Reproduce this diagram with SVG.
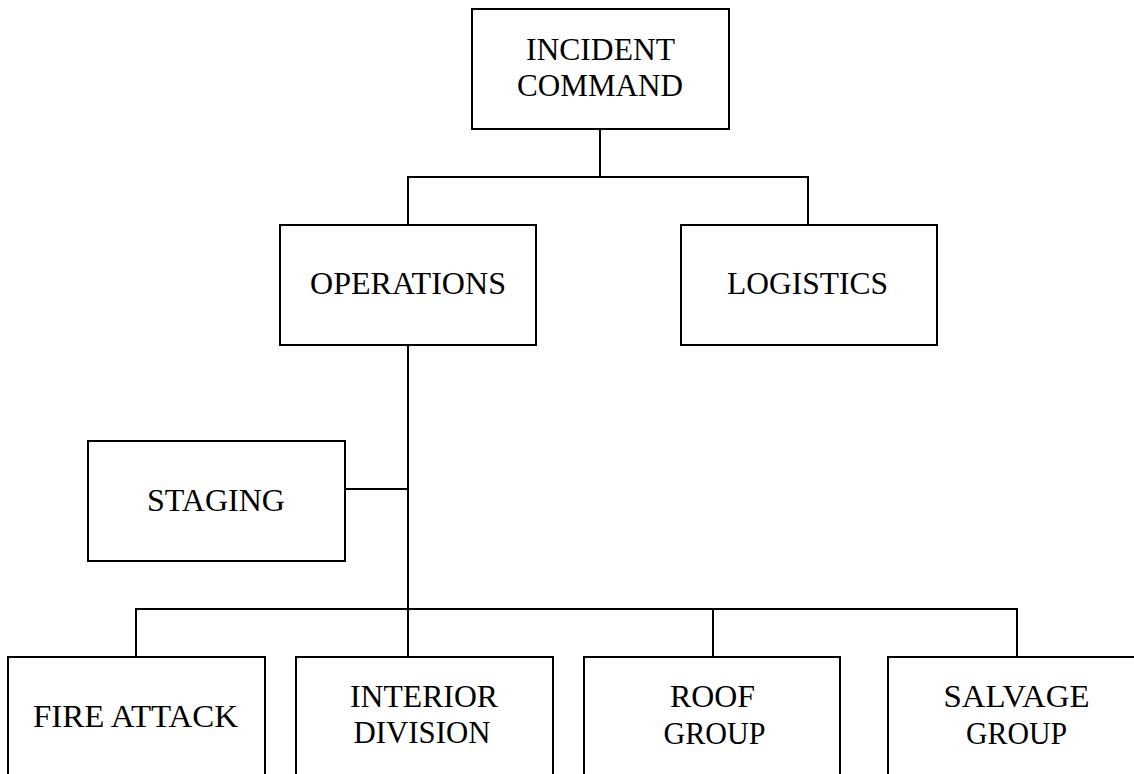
<svg xmlns="http://www.w3.org/2000/svg" width="1134" height="774" viewBox="0 0 1134 774">
<style>
.box{fill:#fff;stroke:#000;stroke-width:2}
.lbl{font-family:"Liberation Serif","Times New Roman",serif;font-size:32.5px;fill:#000;text-anchor:middle}
.conn line{stroke:#000;stroke-width:2;fill:none}
</style>
<rect width="1134" height="774" fill="#fff"/>
<g id="connectors" class="conn">
<line x1="600" y1="129" x2="600" y2="177"/>
<line x1="407" y1="177" x2="809" y2="177"/>
<line x1="408" y1="177" x2="408" y2="225"/>
<line x1="808" y1="177" x2="808" y2="225"/>
<line x1="408" y1="345" x2="408" y2="657"/>
<line x1="345" y1="489" x2="408" y2="489"/>
<line x1="135" y1="609" x2="1018" y2="609"/>
<line x1="136" y1="609" x2="136" y2="657"/>
<line x1="713" y1="609" x2="713" y2="657"/>
<line x1="1017" y1="609" x2="1017" y2="657"/>
</g>
<g id="incident-command">
<rect class="box" x="472" y="9" width="257" height="120"/>
<text class="lbl" x="600.5" y="59.5" textLength="149" lengthAdjust="spacingAndGlyphs">INCIDENT</text>
<text class="lbl" x="600" y="95.5" textLength="166" lengthAdjust="spacingAndGlyphs">COMMAND</text>
</g>
<g id="operations">
<rect class="box" x="280" y="225" width="256" height="120"/>
<text class="lbl" x="408" y="294" textLength="196" lengthAdjust="spacingAndGlyphs">OPERATIONS</text>
</g>
<g id="logistics">
<rect class="box" x="681" y="225" width="256" height="120"/>
<text class="lbl" x="807.5" y="294" textLength="161" lengthAdjust="spacingAndGlyphs">LOGISTICS</text>
</g>
<g id="staging">
<rect class="box" x="88" y="441" width="257" height="120"/>
<text class="lbl" x="216" y="510.5" textLength="138" lengthAdjust="spacingAndGlyphs">STAGING</text>
</g>
<g id="fire-attack">
<rect class="box" x="8" y="657" width="257" height="122"/>
<text class="lbl" x="135.5" y="727" textLength="205" lengthAdjust="spacingAndGlyphs">FIRE ATTACK</text>
</g>
<g id="interior-division">
<rect class="box" x="296" y="657" width="257" height="122"/>
<text class="lbl" x="424" y="707" textLength="148" lengthAdjust="spacingAndGlyphs">INTERIOR</text>
<text class="lbl" x="422" y="742.5" textLength="137" lengthAdjust="spacingAndGlyphs">DIVISION</text>
</g>
<g id="roof-group">
<rect class="box" x="584" y="657" width="256" height="122"/>
<text class="lbl" x="712.5" y="707" textLength="85" lengthAdjust="spacingAndGlyphs">ROOF</text>
<text class="lbl" x="714.5" y="743.5" textLength="102" lengthAdjust="spacingAndGlyphs">GROUP</text>
</g>
<g id="salvage-group">
<rect class="box" x="888" y="657" width="256" height="122"/>
<text class="lbl" x="1016.5" y="707" textLength="146" lengthAdjust="spacingAndGlyphs">SALVAGE</text>
<text class="lbl" x="1016.5" y="743.5" textLength="101" lengthAdjust="spacingAndGlyphs">GROUP</text>
</g>
</svg>
